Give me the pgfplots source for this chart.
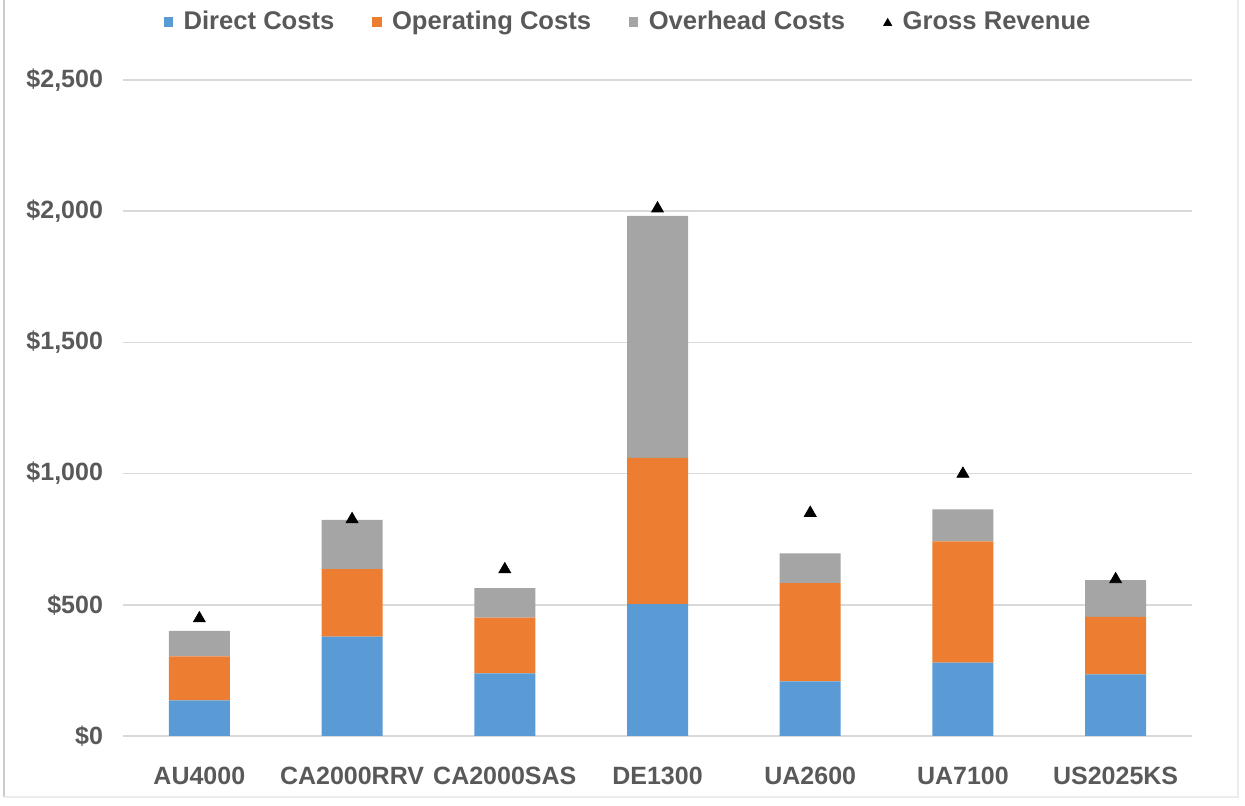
\documentclass[border=0pt]{standalone}
\usepackage{fontspec}
\setmainfont{Liberation Sans}
\usepackage{pgfplots}
\pgfplotsset{compat=1.18}

\definecolor{cDirect}{HTML}{5B9BD5}
\definecolor{cOperating}{HTML}{ED7D31}
\definecolor{cOverhead}{HTML}{A5A5A5}
\definecolor{txtgray}{HTML}{595959}
\definecolor{gridgray}{HTML}{D9D9D9}

\pgfplotsset{
  sqlegend/.style={legend image code/.code={%
    \fill[##1,draw=none] (0pt,-2.3pt) rectangle (4.6pt,2.3pt);
    \path[draw=none] (7.8pt,0pt);}},
  trilegend/.style={legend image code/.code={%
    \fill[black,draw=none] (0pt,-1.9pt) -- (4.6pt,-1.9pt) -- (2.3pt,2.1pt) -- cycle;
    \path[draw=none] (0pt,-2.3pt) (7.8pt,2.3pt);}},
  common/.style={
    scale only axis, width=534.5pt, height=328pt,
    at={(0,0)}, anchor=south west,
    xmin=-0.5, xmax=6.5, ymin=0, ymax=2500,
  },
}

\begin{document}
\begin{tikzpicture}
\useasboundingbox (-61.5pt,-35pt) rectangle (561pt,368pt);
\draw[gray!40, line width=0.8pt] (-59.5pt,368pt) -- (-59.5pt,-30.5pt);
\draw[gray!15, line width=0.8pt] (-59.5pt,-30.5pt) -- (557.5pt,-30.5pt) -- (557.5pt,368pt);

\begin{axis}[common,
  ybar stacked, bar width=30.5pt,
  axis line style={draw=none}, major tick length=0pt,
  ymajorgrids, grid style={draw=gridgray, line width=0.75pt},
  ytick={0,500,1000,1500,2000,2500},
  yticklabels={{\$0},{\$500},{\$1,000},{\$1,500},{\$2,000},{\$2,500}},
  xtick={0,1,2,3,4,5,6},
  xticklabels={AU4000,CA2000RRV,CA2000SAS,DE1300,UA2600,UA7100,US2025KS},
  tick label style={font=\fontsize{12.5}{14}\selectfont\bfseries, text=txtgray},
  xticklabel style={yshift=-12pt},
  yticklabel style={xshift=-6.5pt},
  legend columns=4,
  legend style={draw=none, fill=none, inner sep=0pt, at={(0.038,1.0884)}, anchor=west,
    font=\fontsize{12.8}{14}\selectfont\bfseries, text=txtgray,
    /tikz/every even column/.append style={column sep=17pt}},
]
\addplot[fill=cDirect, draw=none, sqlegend] coordinates
  {(0,136) (1,379) (2,239) (3,503) (4,208) (5,280) (6,235)};
\addlegendentry{Direct Costs}
\addplot[fill=cOperating, draw=none, sqlegend] coordinates
  {(0,167) (1,257) (2,212) (3,557) (4,375) (5,462) (6,219)};
\addlegendentry{Operating Costs}
\addplot[fill=cOverhead, draw=none, sqlegend] coordinates
  {(0,98) (1,188) (2,113) (3,922) (4,113) (5,122) (6,140)};
\addlegendentry{Overhead Costs}
\addlegendimage{trilegend, draw=none}
\addlegendentry{Gross Revenue}
\end{axis}

\begin{axis}[common, hide axis]
\addplot[only marks, mark=triangle*, mark size=3.4pt, black] coordinates
  {(0,448) (1,826) (2,635) (3,2010) (4,850) (5,999) (6,597)};
\end{axis}
\end{tikzpicture}
\end{document}
